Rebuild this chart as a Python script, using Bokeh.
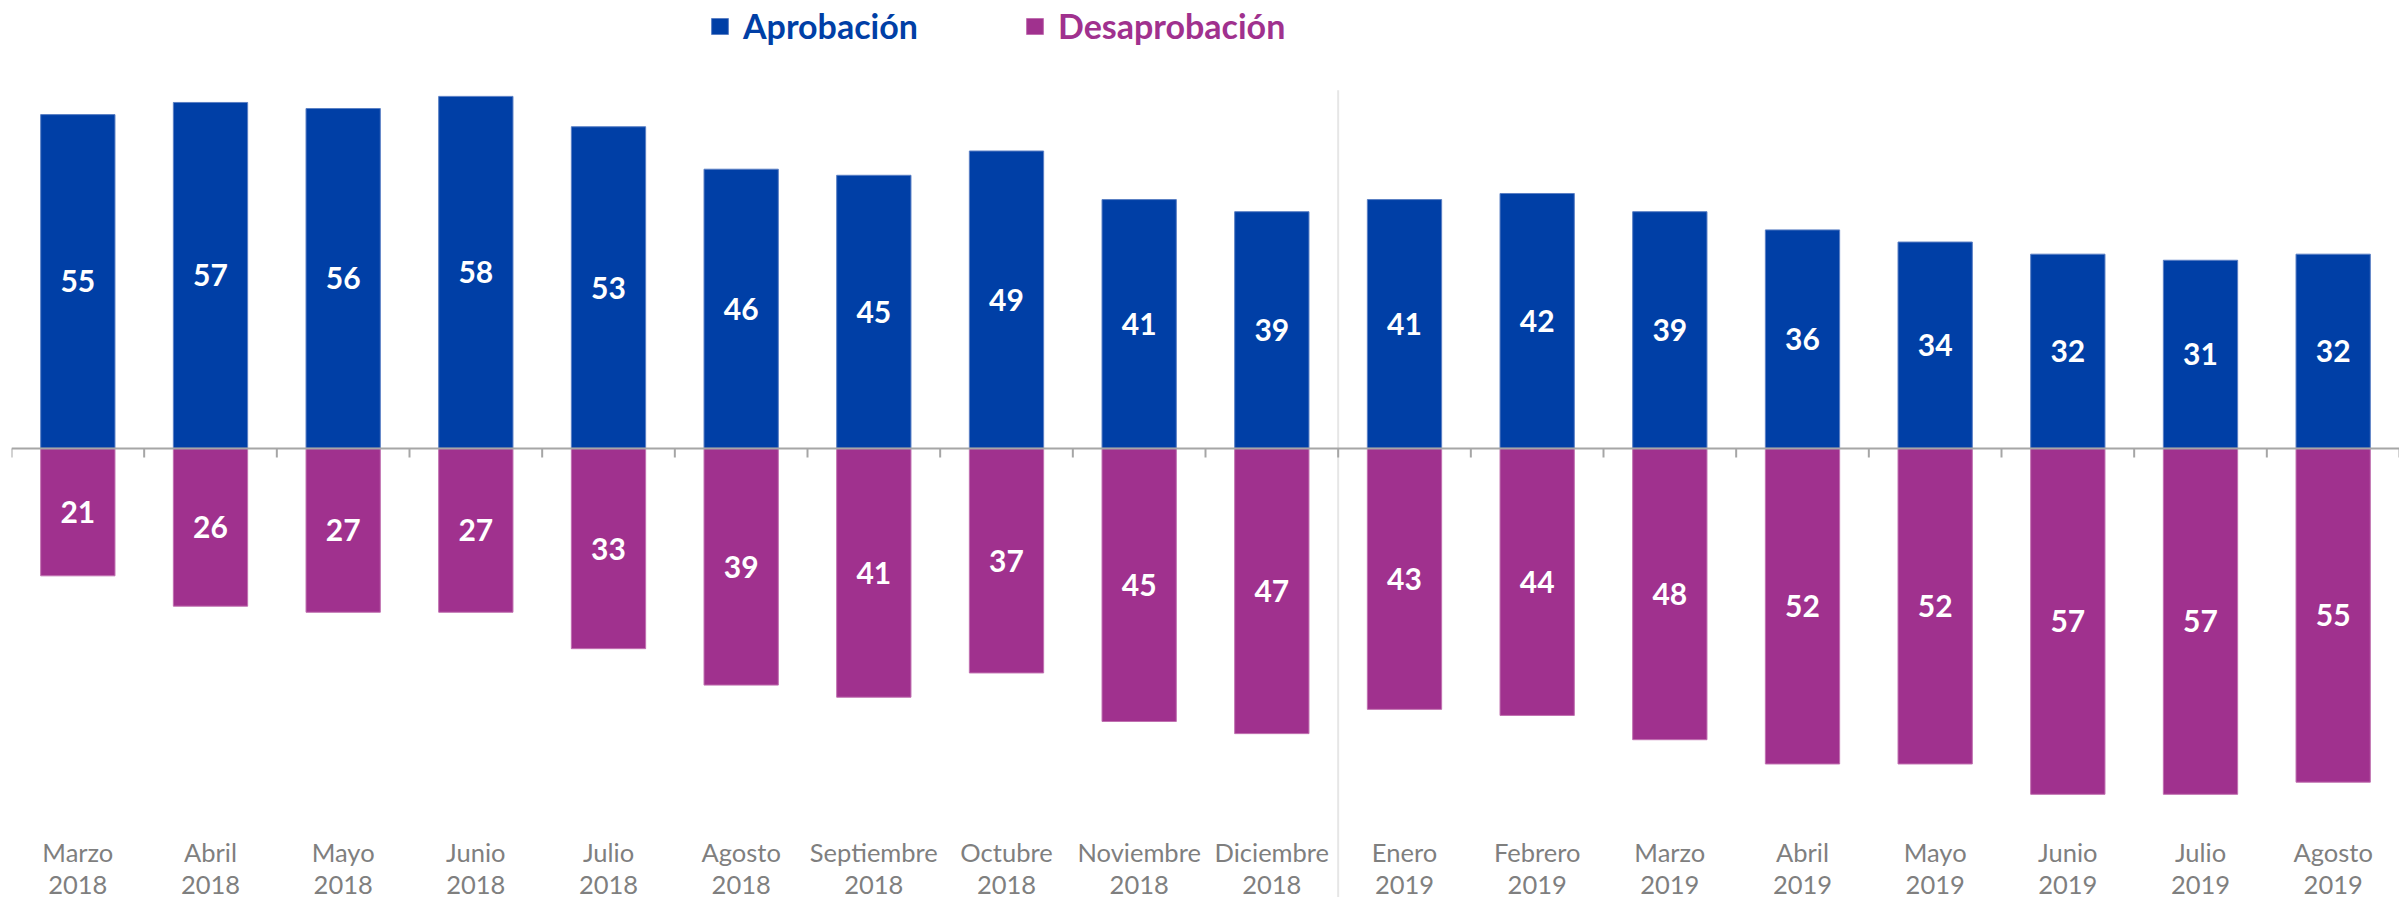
from bokeh.plotting import figure
from bokeh.models import ColumnDataSource, Range1d, Span, Legend, LegendItem
from bokeh.core.properties import value
from bokeh.embed import file_html
from bokeh.resources import INLINE

months = ["Marzo", "Abril", "Mayo", "Junio", "Julio", "Agosto", "Septiembre", "Octubre",
          "Noviembre", "Diciembre", "Enero", "Febrero", "Marzo", "Abril", "Mayo", "Junio",
          "Julio", "Agosto"]
years = ["2018"] * 10 + ["2019"] * 8
aprobacion = [55, 57, 56, 58, 53, 46, 45, 49, 41, 39, 41, 42, 39, 36, 34, 32, 31, 32]
desaprobacion = [21, 26, 27, 27, 33, 39, 41, 37, 45, 47, 43, 44, 48, 52, 52, 57, 57, 55]

BLUE = "#003FA6"
PURPLE = "#A0318E"
FONT = "Lato"

n = len(months)
xs = list(range(n))
Y0, Y1 = -74.0, 73.8
src = ColumnDataSource(dict(
    x=xs,
    ap=aprobacion,
    de=[-v for v in desaprobacion],
    ap_mid=[v / 2 for v in aprobacion],
    de_mid=[-v / 2 for v in desaprobacion],
    ap_txt=[str(v) for v in aprobacion],
    de_txt=[str(v) for v in desaprobacion],
    month=months,
    year=years,
    base=[Y0] * n,
))

p = figure(width=2399, height=897, output_backend="svg", toolbar_location=None,
           x_axis_location=None, y_axis_location=None,
           x_range=Range1d(-0.5, n - 0.5), y_range=Range1d(Y0, Y1),
           min_border_left=11, min_border_right=0, min_border_top=0, min_border_bottom=0)
p.outline_line_color = None
p.grid.visible = False

r_ap = p.vbar(x="x", top="ap", bottom=0, width=0.56, source=src,
              fill_color=BLUE, line_color="#5a7fc4", line_width=1)
r_de = p.vbar(x="x", top=0, bottom="de", width=0.56, source=src,
              fill_color=PURPLE, line_color="#c070b0", line_width=1)

# separator between 2018 and 2019
split = years.index("2019") - 0.5
p.segment(x0=[split], x1=[split], y0=[Y0 - 5], y1=[59.0], line_color="#e6e6e6", line_width=2)

# zero line and tick marks at category boundaries
p.add_layout(Span(location=0, dimension="width", line_color="#a6a6a6", line_width=2))
bounds = [i - 0.5 for i in range(n + 1)]
p.segment(x0=bounds, x1=bounds, y0=[0] * len(bounds), y1=[-1.5] * len(bounds),
          line_color="#a6a6a6", line_width=2)

# value labels
for col_y, col_t in [("ap_mid", "ap_txt"), ("de_mid", "de_txt")]:
    p.text(x="x", y=col_y, text=col_t, source=src, text_color="white",
           text_font=value(FONT), text_font_style="bold", text_font_size="30px",
           text_align="center", text_baseline="middle")

# category labels (month / year) at the bottom
p.text(x="x", y="base", text="month", source=src, y_offset=-46, text_color="#7f7f7f",
       text_font=value(FONT), text_font_size="25.5px", text_align="center",
       text_baseline="alphabetic")
p.text(x="x", y="base", text="year", source=src, y_offset=-13, text_color="#7f7f7f",
       text_font=value(FONT), text_font_size="25.5px", text_align="center",
       text_baseline="alphabetic")

for r, label, color, vx in [(r_ap, "Aprobación", BLUE, 698), (r_de, "Desaprobación", PURPLE, 1013)]:
    leg = Legend(items=[LegendItem(label=label, renderers=[r])], location=(vx, 851),
                 orientation="horizontal", glyph_width=21, glyph_height=20,
                 label_standoff=13, padding=0, margin=0, border_line_color=None,
                 background_fill_alpha=0, label_text_font=FONT,
                 label_text_font_style="bold", label_text_font_size="34px",
                 label_text_color=color)
    p.add_layout(leg, "center")

open("out.html", "w").write(file_html(p, INLINE))
